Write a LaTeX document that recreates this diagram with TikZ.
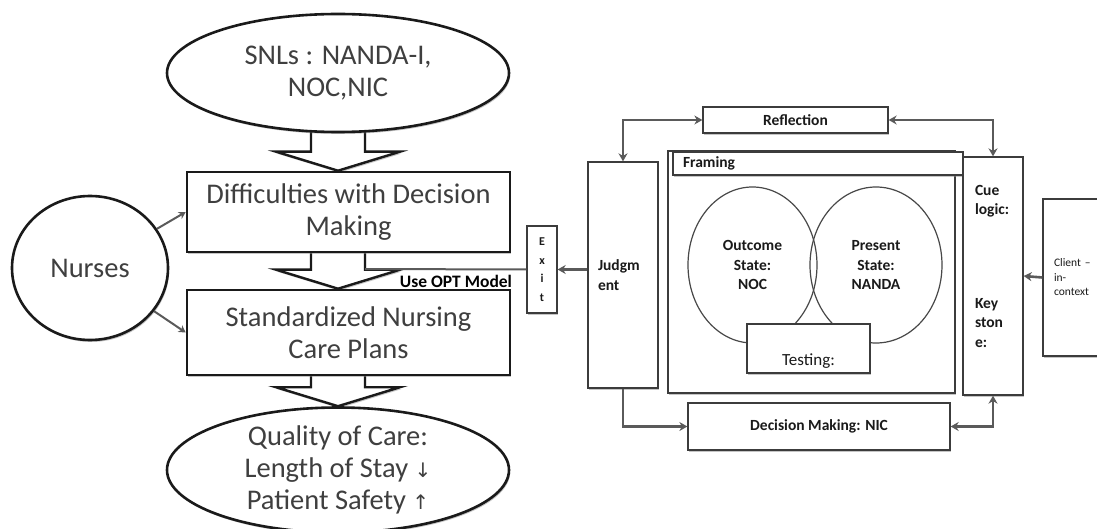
\documentclass[tikz,border=0pt]{standalone}
\usepackage{fontspec}
\setmainfont{Carlito}
\newfontfamily\arrowfont{DejaVu Sans}
\usetikzlibrary{arrows.meta,positioning,shapes.geometric,shadows,backgrounds,calc}
\definecolor{optInk}{HTML}{1A1A1A}
\definecolor{optText}{HTML}{3F3F3F}
\definecolor{optGray}{HTML}{5A5A5A}
\definecolor{optShade}{HTML}{8C8C8C}
\tikzset{
  flow box/.style={draw=optInk, line width=2.6pt, fill=white, align=center,
    text=optText, font=\fontsize{28.5}{32}\selectfont, inner sep=0pt,
    drop shadow={shadow xshift=1.2pt, shadow yshift=-2pt, fill=optShade}},
  flow ellipse/.style={flow box, ellipse},
  flow block/.style={draw=optInk, line width=2.4pt, fill=white, line join=miter,
    drop shadow={shadow xshift=1.2pt, shadow yshift=-2pt, fill=optShade}},
  nurse link/.style={draw=optGray, line width=2pt, -{Stealth[length=7pt,width=8pt]}},
  opt box/.style={draw=optInk!85, line width=1.3pt, fill=white, inner sep=0pt,
    text=optInk, font=\fontsize{15.5}{19.5}\selectfont\bfseries,
    drop shadow={shadow xshift=1.3pt, shadow yshift=-1.8pt, fill=optShade}},
  opt state/.style={draw=optInk!80, line width=1.2pt, ellipse, inner sep=0pt,
    align=center, text=optInk, font=\fontsize{15.5}{19.5}\selectfont\bfseries},
  opt link/.style={draw=optGray, line width=2.6pt, >={Stealth[length=8pt,width=9pt]}},
  exit link/.style={draw=optGray, line width=2pt},
  opt label/.style={inner sep=0pt, text=black, font=\fontsize{17.5}{20}\selectfont\bfseries}
}
\newcommand{\flowarrow}[2]{%
  \draw[flow block] let \p1=(#1.south), \p2=(#2.north), \p3=(snl.center) in
    (\x3-27pt,\y1+6pt) -- (\x3-27pt,\y2+19pt) -- (\x3-62pt,\y2+19pt) -- (\x3,\y2)
    -- (\x3+62pt,\y2+19pt) -- (\x3+27pt,\y2+19pt) -- (\x3+27pt,\y1+6pt);}

\begin{document}
\begin{tikzpicture}[x=1pt,y=-1pt]
  \path[use as bounding box] (0,0) rectangle (1097,529);
  \clip (0,0) rectangle (1097,529);

  \node[flow ellipse, minimum width=342pt, minimum height=118pt] (snl) at (338,73) {SNLs : NANDA-I,\\NOC,NIC};
  \node[flow box, minimum width=323pt, minimum height=80pt] (diff) at (348.5,212) {Difficulties with Decision\\Making};
  \node[flow box, minimum width=323pt, minimum height=85pt] (std) at (348.5,332.5) {Standardized Nursing\\Care Plans};
  \node[flow ellipse, minimum width=342pt, minimum height=116pt] (care) at (338,470)
    {Quality of Care:\\Length of Stay {\arrowfont\fontsize{20}{32}\selectfont ↓}\\Patient Safety {\arrowfont\fontsize{20}{32}\selectfont ↑}};
  \node[flow ellipse, minimum width=156pt, minimum height=144pt] (nurses) at (90,268) {Nurses};
  \draw[nurse link] (nurses) -- (diff.west);
  \draw[nurse link] (nurses) -- (std.west);

  \node[opt box, minimum width=287pt, minimum height=242pt] (frame) at (811.5,272) {};
  \node[opt box, minimum width=290pt, minimum height=23pt, text width=270pt, align=left, inner xsep=10pt] (framing) at (818,163.5) {Framing};
  \node[opt state, minimum width=129pt, minimum height=156pt] (outcome) at (752.5,265) {Outcome\\State:\\NOC};
  \node[opt state, minimum width=132pt, minimum height=156pt] (present) at (876,265) {Present\\State:\\NANDA};
  \node[opt box, font=\fontsize{17}{20}\selectfont, minimum width=123pt, minimum height=49pt, text height=33pt, text depth=0pt] (testing) at (808.5,348.5) {Testing:};
  \node[opt box, minimum width=185pt, minimum height=26pt] (refl) at (795.5,120) {Reflection};
  \node[opt box, minimum width=70pt, minimum height=226pt, text width=50pt, align=left, inner xsep=10pt] (judg) at (623,275) {Judgm\\ent};
  \node[opt box, font=\fontsize{12}{18.5}\selectfont\bfseries, minimum width=30pt, minimum height=87pt, align=center] (exit) at (542,269.5) {E\\x\\i\\t};
  \node[opt box, minimum width=60pt, minimum height=238pt, text width=36pt, align=left, inner xsep=12pt] (cue) at (993,276) {Cue\\logic:\\[74pt]Key\\ston\\e:\\\mbox{}};
  \node[opt box, font=\fontsize{11.5}{14.5}\selectfont, minimum width=72pt, minimum height=157pt, text width=50pt, align=left, inner xsep=11pt] (client) at (1079,277.5) {Client –\\in-\\context};
  \node[opt box, minimum width=262pt, minimum height=47pt] (dec) at (819,426.5) {Decision Making: NIC};

  \draw[opt link,<->] (judg.north) |- (refl.west);
  \draw[opt link,<->] (refl.east) -| (cue.north);
  \draw[opt link,->] (judg.south) |- (dec.west);
  \draw[opt link,<->] (dec.east) -| (cue.south);
  \draw[opt link,->] (client.west) -- (cue.east);
  \draw[opt link,->] (exit.east -| judg.west) -- (exit.east);

  \coordinate (optend) at (365,269);
  \draw[exit link] (exit.west) -- (optend);
  \node[opt label] (optlbl) at (456,281) {Use OPT Model};

  \begin{scope}[on background layer]
    \flowarrow{snl}{diff}
    \flowarrow{diff}{std}
    \flowarrow{std}{care}
  \end{scope}
\end{tikzpicture}
\end{document}
